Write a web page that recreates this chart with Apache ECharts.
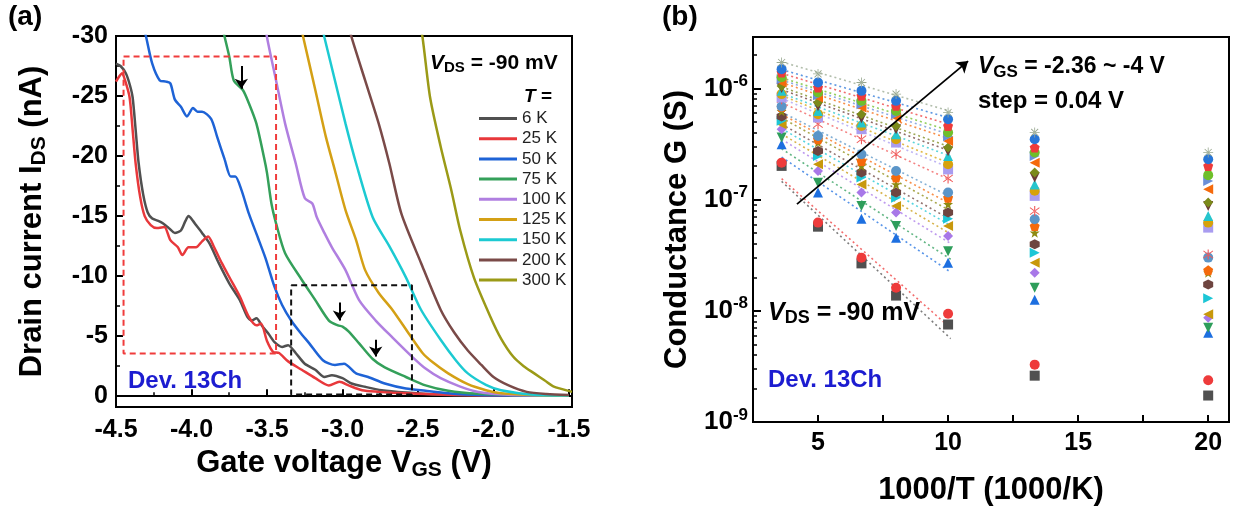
<!DOCTYPE html>
<html>
<head>
<meta charset="UTF-8">
<title>I-V curves and conductance</title>
<script type="text/javascript" src="https://cdn.jsdelivr.net/npm/echarts@6.0.0/dist/echarts.min.js"></script>
<style>
  body{margin:0;background:#fff}
</style>
</head>
<body>
<div id="main" style="width:1238px;height:511px"></div>
<script type="text/javascript">
// ---------- panel (a): drain current vs gate voltage, one curve per temperature ----------
var tempNames = ['6 K', '25 K', '50 K', '75 K', '100 K', '125 K', '150 K', '200 K', '300 K'];

var curve6K = [[-4.5,-27.7],[-4.47,-27.5],[-4.435,-26.9],[-4.41,-26.0],[-4.39,-24.9],[-4.37,-22.2],[-4.35,-19.4],[-4.32,-16.8],[-4.29,-15.3],[-4.26,-14.8],[-4.22,-14.6],[-4.19,-14.4],[-4.15,-14.0],[-4.11,-13.6],[-4.07,-13.8],[-4.04,-14.6],[-4.02,-15.0],[-3.99,-14.6],[-3.97,-14.25],[-3.93,-13.6],[-3.88,-12.7],[-3.82,-11.1],[-3.75,-9.4],[-3.68,-8.0],[-3.63,-6.6],[-3.60,-6.3],[-3.57,-6.5],[-3.53,-5.8],[-3.49,-5.2],[-3.45,-4.5],[-3.40,-4.1],[-3.36,-4.25],[-3.31,-3.6],[-3.25,-2.7],[-3.18,-2.2],[-3.12,-1.6],[-3.07,-1.75],[-3.00,-1.5],[-2.94,-1.06],[-2.85,-0.78],[-2.74,-0.5],[-2.58,-0.3],[-2.4,-0.15],[-2.2,-0.08],[-1.9,-0.05],[-1.5,-0.03]];
var curve25K = [[-4.5,-26.2],[-4.48,-26.6],[-4.46,-26.9],[-4.44,-26.3],[-4.41,-24.9],[-4.39,-22.2],[-4.37,-19.4],[-4.34,-16.6],[-4.31,-15.0],[-4.27,-14.25],[-4.23,-14.0],[-4.18,-14.1],[-4.14,-13.0],[-4.09,-12.4],[-4.06,-11.75],[-4.02,-12.4],[-3.97,-12.4],[-3.93,-12.9],[-3.89,-13.3],[-3.85,-12.4],[-3.80,-11.1],[-3.74,-9.7],[-3.68,-8.3],[-3.62,-6.6],[-3.57,-5.9],[-3.54,-6.05],[-3.50,-4.6],[-3.46,-3.7],[-3.42,-3.6],[-3.36,-2.9],[-3.27,-2.2],[-3.18,-1.5],[-3.09,-0.9],[-3.02,-1.2],[-2.96,-0.9],[-2.87,-0.5],[-2.76,-0.36],[-2.67,-0.28],[-2.5,-0.2],[-2.3,-0.12],[-2.0,-0.06],[-1.5,-0.03]];
var curve50K = [[-4.32,-31],[-4.30,-29.9],[-4.26,-27.7],[-4.21,-26.3],[-4.17,-26.2],[-4.14,-26.05],[-4.11,-24.7],[-4.07,-24.1],[-4.03,-23.3],[-3.99,-24.0],[-3.96,-23.7],[-3.93,-23.7],[-3.87,-23.1],[-3.83,-21.6],[-3.78,-19.7],[-3.74,-18.3],[-3.71,-18.3],[-3.67,-17.2],[-3.62,-15.2],[-3.56,-13.2],[-3.51,-11.5],[-3.45,-9.1],[-3.40,-7.6],[-3.34,-6.3],[-3.28,-5.3],[-3.22,-4.4],[-3.13,-3.0],[-3.05,-2.6],[-2.99,-2.7],[-2.91,-1.9],[-2.83,-1.6],[-2.72,-1.06],[-2.58,-0.64],[-2.45,-0.45],[-2.3,-0.25],[-2.1,-0.1],[-1.8,-0.05],[-1.5,-0.03]];
var curve75K = [[-3.80,-31],[-3.78,-29.9],[-3.75,-28.3],[-3.72,-26.3],[-3.66,-25.5],[-3.62,-24.4],[-3.57,-22.7],[-3.52,-19.9],[-3.50,-18.6],[-3.47,-16.0],[-3.44,-14.4],[-3.38,-11.9],[-3.27,-9.7],[-3.18,-8.0],[-3.09,-6.3],[-3.03,-5.9],[-3.00,-5.8],[-2.96,-5.4],[-2.89,-4.4],[-2.80,-3.1],[-2.72,-2.4],[-2.58,-1.6],[-2.45,-0.9],[-2.3,-0.45],[-2.1,-0.2],[-1.8,-0.07],[-1.5,-0.04]];
var curve100K = [[-3.51,-31],[-3.50,-29.9],[-3.44,-26.3],[-3.38,-22.7],[-3.31,-19.4],[-3.25,-16.5],[-3.20,-16.05],[-3.17,-14.9],[-3.12,-13.6],[-3.07,-12.4],[-2.98,-10.5],[-2.89,-8.0],[-2.78,-6.3],[-2.67,-4.9],[-2.54,-3.3],[-2.45,-2.3],[-2.35,-1.5],[-2.22,-0.8],[-2.1,-0.35],[-1.9,-0.12],[-1.5,-0.04]];
var curve125K = [[-3.28,-31],[-3.26,-29.9],[-3.18,-25.5],[-3.11,-21.6],[-3.05,-18.8],[-2.98,-15.5],[-2.91,-13.0],[-2.85,-10.5],[-2.76,-8.6],[-2.67,-7.2],[-2.56,-5.2],[-2.47,-3.6],[-2.40,-2.8],[-2.30,-1.9],[-2.17,-1.0],[-2.05,-0.5],[-1.95,-0.25],[-1.7,-0.08],[-1.5,-0.04]];
var curve150K = [[-3.14,-31],[-3.12,-29.9],[-3.05,-26.3],[-2.98,-22.7],[-2.91,-19.4],[-2.80,-14.9],[-2.69,-12.5],[-2.58,-9.9],[-2.48,-7.2],[-2.35,-4.7],[-2.25,-3.0],[-2.17,-1.9],[-2.05,-0.95],[-1.95,-0.5],[-1.73,-0.12],[-1.5,-0.05]];
var curve200K = [[-2.96,-31],[-2.94,-29.9],[-2.85,-26.3],[-2.76,-22.7],[-2.69,-19.4],[-2.61,-15.2],[-2.48,-11.1],[-2.35,-7.2],[-2.26,-5.3],[-2.17,-3.8],[-2.08,-2.6],[-2.00,-1.6],[-1.9,-0.9],[-1.78,-0.36],[-1.65,-0.18],[-1.5,-0.1]];
var curve300K = [[-2.49,-31],[-2.47,-29.9],[-2.42,-24.9],[-2.35,-20.8],[-2.28,-17.2],[-2.22,-13.8],[-2.13,-9.9],[-2.02,-6.6],[-1.95,-4.8],[-1.87,-3.3],[-1.80,-2.5],[-1.73,-1.9],[-1.66,-1.3],[-1.60,-0.8],[-1.48,-0.36]];

var curvesA = [curve6K, curve25K, curve50K, curve75K, curve100K, curve125K, curve150K, curve200K, curve300K];
var colorsA = ['#505050', '#e8383b', '#1e63d6', '#34a05a', '#b07fe0', '#d4a015', '#1ccad2', '#7a4a48', '#9b9a17'];

// dashed boxes and arrows (data coordinates)
var redBox = [[-4.45, -28.3], [-3.44, -3.55]];
var blackBox = [[-3.34, -9.25], [-2.54, -0.14]];
var arrowsA = [
  [[-3.67, -27.5], [-3.67, -25.6]],
  [[-3.02, -7.8], [-3.02, -6.3]],
  [[-2.78, -4.7], [-2.78, -3.3]]
];

// ---------- panel (b): conductance vs 1000/T, one series per gate voltage ----------
var invT = [3.6, 5, 6.67, 8, 10, 13.33, 20];
var g1  = [2.01e-7, 5.71e-8, 2.67e-8, 1.37e-8, 7.53e-9, 2.61e-9, 1.73e-9];
var g2  = [2.15e-7, 6.21e-8, 3.00e-8, 1.61e-8, 9.40e-9, 3.28e-9, 2.37e-9];
var g3  = [3.15e-7, 1.16e-7, 6.74e-8, 4.55e-8, 2.70e-8, 1.26e-8, 6.34e-9];
var g4  = [3.62e-7, 1.42e-7, 8.76e-8, 5.78e-8, 3.44e-8, 1.61e-8, 7.03e-9];
var g5  = [4.30e-7, 1.81e-7, 1.16e-7, 7.64e-8, 4.70e-8, 2.20e-8, 8.65e-9];
var g6  = [4.77e-7, 2.08e-7, 1.37e-7, 8.76e-8, 5.78e-8, 2.70e-8, 9.29e-9];
var g7  = [5.11e-7, 2.47e-7, 1.58e-7, 1.04e-7, 6.74e-8, 3.33e-8, 1.30e-8];
var g8  = [5.60e-7, 2.74e-7, 1.75e-7, 1.16e-7, 7.64e-8, 3.96e-8, 1.72e-8];
var g9  = [6.24e-7, 3.26e-7, 2.01e-7, 1.37e-7, 9.08e-8, 5.04e-8, 2.20e-8];
var g10 = [6.79e-7, 3.49e-7, 2.23e-7, 1.58e-7, 1.04e-7, 5.78e-8, 2.32e-8];
var g11 = [6.89e-7, 3.74e-7, 2.56e-7, 1.81e-7, 1.16e-7, 6.65e-8, 3.01e-8];
var g12 = [8.01e-7, 4.77e-7, 3.49e-7, 2.56e-7, 1.55e-7, 7.89e-8, 3.21e-8];
var g13 = [8.30e-7, 5.48e-7, 4.30e-7, 3.26e-7, 1.87e-7, 1.08e-7, 5.60e-8];
var g14 = [8.89e-7, 5.87e-7, 4.60e-7, 3.49e-7, 2.08e-7, 1.20e-7, 6.21e-8];
var g15 = [9.51e-7, 6.28e-7, 4.94e-7, 3.88e-7, 2.47e-7, 1.37e-7, 7.11e-8];
var g16 = [1.01e-6, 6.93e-7, 5.40e-7, 4.30e-7, 2.72e-7, 1.58e-7, 8.76e-8];
var g17 = [1.05e-6, 7.48e-7, 5.87e-7, 4.60e-7, 2.94e-7, 1.75e-7, 9.40e-8];
var g18 = [1.13e-6, 8.30e-7, 6.75e-7, 5.48e-7, 3.37e-7, 2.15e-7, 1.24e-7];
var g19 = [1.21e-6, 8.70e-7, 7.22e-7, 5.87e-7, 3.72e-7, 2.47e-7, 1.47e-7];
var g20 = [1.26e-6, 9.20e-7, 7.73e-7, 6.28e-7, 4.02e-7, 2.65e-7, 1.66e-7];
var g21 = [1.39e-6, 1.02e-6, 8.57e-7, 6.97e-7, 4.60e-7, 2.94e-7, 2.01e-7];
var g22 = [1.49e-6, 1.13e-6, 9.51e-7, 7.73e-7, 5.29e-7, 3.49e-7, 2.31e-7];
var g23 = [1.71e-6, 1.35e-6, 1.13e-6, 8.89e-7, 6.08e-7, 4.02e-7, 2.65e-7];
var seriesB = [g1, g2, g3, g4, g5, g6, g7, g8, g9, g10, g11, g12, g13, g14, g15, g16, g17, g18, g19, g20, g21, g22, g23];

// the arrow across the fits
var arrowB = [[4.19, 9.1e-8], [10.77, 1.76e-6]];

// ---------- styling ----------
var FONT = '"Liberation Sans", Arial, sans-serif';
var HEX = 'path://M0,-10L8.66,-5L8.66,5L0,10L-8.66,5L-8.66,-5Z';
var PENT = 'path://M0,-10L9.51,-3.09L5.88,8.09L-5.88,8.09L-9.51,-3.09Z';
var STAR = 'path://M0,-10L2.35,-3.24L9.51,-3.09L3.8,1.24L5.88,8.09L0,4L-5.88,8.09L-3.8,1.24L-9.51,-3.09L-2.35,-3.24Z';
var AST = 'path://M-0.9,-10L0.9,-10L0.9,10L-0.9,10Z M-8.2,-6.3L-7.3,-7.8L8.2,6.3L7.3,7.8Z M-8.2,6.3L-7.3,7.8L8.2,-6.3L7.3,-7.8Z';
var XST = 'path://M-0.8,-10L0.8,-10L0.8,10L-0.8,10Z M-10,-0.8L10,-0.8L10,0.8L-10,0.8Z M-7.6,-6.4L-6.4,-7.6L7.6,6.4L6.4,7.6Z M-7.6,6.4L-6.4,7.6L7.6,-6.4L6.4,-7.6Z';
var markB = [
  ['rect', '#505050', 0], ['circle', '#ee3b3b', 0], ['triangle', '#1d6fe0', 0], ['triangle', '#2e9e5b', 180],
  ['diamond', '#a878e8', 0], ['triangle', '#c8980c', 90], ['triangle', '#1cc6d6', -90], [HEX, '#6e4540', 0],
  [STAR, '#8d8b12', 0], [PENT, '#f56a0c', 0], ['circle', '#5b95c8', 0], [AST, '#f05a5a', 0],
  ['rect', '#a99cf0', 0], ['circle', '#d7a20c', 0], ['triangle', '#25c5cd', 0], ['triangle', '#6b3b36', 180],
  ['diamond', '#7b8a1a', 0], ['triangle', '#f56a0c', 90], ['triangle', '#6b8fd8', -90], ['circle', '#6fbf2a', 0],
  [PENT, '#ee3b3b', 0], ['circle', '#2876d8', 0], [XST, '#98a890', 0]
];

// linear fit of log10(G) vs 1000/T over the five high-temperature points
function fitLine(ys) {
  var n = 5, sx = 0, sy = 0, sxx = 0, sxy = 0;
  for (var i = 0; i < n; i++) {
    var x = invT[i], y = Math.log10(ys[i]);
    sx += x; sy += y; sxx += x * x; sxy += x * y;
  }
  var b = (n * sxy - sx * sy) / (n * sxx - sx * sx);
  var a = (sy - b * sx) / n;
  return [[3.6, Math.pow(10, a + b * 3.6)], [10.1, Math.pow(10, a + b * 10.1)]];
}

function boxPath(b) {
  return [[b[0][0], b[0][1]], [b[1][0], b[0][1]], [b[1][0], b[1][1]], [b[0][0], b[1][1]], [b[0][0], b[0][1]]];
}

var decades = [1e-9, 1e-8, 1e-7, 1e-6];
var minorLog = [];
for (var e = -9; e <= -6; e++) {
  for (var m = 2; m <= 9; m++) {
    var v = m * Math.pow(10, e);
    if (v < 2.9e-6) minorLog.push(v);
  }
}

var boldLbl = {fontFamily: FONT, fontWeight: 'bold', fontSize: 25, color: '#000'};
var axisLineStyle = {show: true, lineStyle: {color: '#000', width: 2}};
var tickStyle = {inside: true, length: 7, lineStyle: {color: '#000', width: 2}};
var nameRich = {
  t: {fontFamily: FONT, fontWeight: 'bold', fontSize: 31, color: '#000'},
  s: {fontFamily: FONT, fontWeight: 'bold', fontSize: 21, color: '#000', padding: [14, 0, 0, 0]}
};

var series = [];

curvesA.forEach(function (c, i) {
  series.push({
    name: tempNames[i], type: 'line', xAxisIndex: 0, yAxisIndex: 0,
    data: c, symbol: 'none', smooth: 0.25, silent: true,
    lineStyle: {color: colorsA[i], width: 2.5}, itemStyle: {color: colorsA[i]},
    emphasis: {disabled: true}, z: 2
  });
});

series.push({
  name: 'redBox', type: 'line', xAxisIndex: 0, yAxisIndex: 0, data: boxPath(redBox),
  symbol: 'none', silent: true, lineStyle: {color: '#f03c3c', width: 2, type: [6, 4]}, z: 3
});
series.push({
  name: 'blackBox', type: 'line', xAxisIndex: 0, yAxisIndex: 0, data: boxPath(blackBox),
  symbol: 'none', silent: true, lineStyle: {color: '#111', width: 2, type: [6, 4]}, z: 3,
  markLine: {
    silent: true, symbol: ['none', 'arrow'], symbolSize: 10, animation: false,
    lineStyle: {color: '#000', width: 2, type: 'solid'}, label: {show: false},
    data: arrowsA.map(function (a) { return [{coord: a[0]}, {coord: a[1]}]; })
  }
});

seriesB.forEach(function (g, i) {
  var fit = {
    name: 'fit' + i, type: 'line', xAxisIndex: 1, yAxisIndex: 1, data: fitLine(g),
    symbol: 'none', silent: true, z: 2,
    lineStyle: {color: markB[i][1], width: 1.6, type: [2, 3], opacity: 0.75}
  };
  if (i === 0) {
    fit.markLine = {
      silent: true, symbol: ['none', 'arrow'], symbolSize: 11, animation: false,
      lineStyle: {color: '#000', width: 1.8, type: 'solid', opacity: 1}, label: {show: false},
      data: [[{coord: arrowB[0]}, {coord: arrowB[1]}]]
    };
  }
  series.push(fit);
});

seriesB.forEach(function (g, i) {
  series.push({
    name: 'G' + i, type: 'scatter', xAxisIndex: 1, yAxisIndex: 1,
    data: invT.map(function (x, k) { return [x, g[k]]; }),
    symbol: markB[i][0], symbolRotate: markB[i][2], symbolSize: 10,
    itemStyle: {color: markB[i][1], opacity: 1}, silent: true, z: 4 + i * 0.01
  });
});

function txt(x, y, text, size, color, rich) {
  return {
    type: 'text', x: x, y: y, silent: true, z: 100,
    style: {
      text: text, fill: color || '#000', font: 'bold ' + size + 'px ' + FONT,
      verticalAlign: 'middle', align: 'left', rich: rich
    }
  };
}
function vRich(size) {
  return {
    i: {fontFamily: FONT, fontWeight: 'bold', fontStyle: 'italic', fontSize: size, color: '#000'},
    s: {fontFamily: FONT, fontWeight: 'bold', fontSize: Math.round(size * 0.72), color: '#000', padding: [Math.round(size * 0.45), 0, 0, 0]},
    n: {fontFamily: FONT, fontWeight: 'bold', fontSize: size, color: '#000'}
  };
}

var option = {
  animation: false,
  backgroundColor: '#fff',
  grid: [
    {left: 116, right: 666, top: 36, bottom: 104, show: true, borderColor: '#000', borderWidth: 2, containLabel: false},
    {left: 753, right: 9, top: 37, bottom: 89, show: true, borderColor: '#000', borderWidth: 2, containLabel: false}
  ],
  legend: {
    data: tempNames, orient: 'vertical', left: 479, top: 110, padding: 0,
    icon: 'rect', itemWidth: 38, itemHeight: 3, itemGap: 3.2, selectedMode: false,
    textStyle: {fontFamily: FONT, fontSize: 17, color: '#222', lineHeight: 17}
  },
  xAxis: [
    {
      type: 'value', gridIndex: 0, min: -4.5, max: -1.48, interval: 0.5,
      axisLine: axisLineStyle, axisTick: tickStyle,
      minorTick: {show: true, splitNumber: 2, length: 4, lineStyle: {color: '#000', width: 1.5}},
      splitLine: {show: false},
      axisLabel: Object.assign({margin: 11, formatter: function (v) {
        return Math.abs(v * 2 - Math.round(v * 2)) > 1e-6 ? '' : v.toFixed(1);
      }}, boldLbl),
      name: '{t|Gate voltage V}{s|GS}{t| (V)}', nameLocation: 'middle', nameGap: 32,
      nameTextStyle: {rich: nameRich}
    },
    {
      type: 'value', gridIndex: 1, min: 2.5, max: 20.8, interval: 2.5,
      axisLine: axisLineStyle, axisTick: tickStyle, splitLine: {show: false},
      axisLabel: Object.assign({margin: 9, formatter: function (v) {
        return Math.abs(v / 5 - Math.round(v / 5)) > 1e-6 ? '' : String(Math.round(v));
      }}, boldLbl),
      name: '{t|1000/T (1000/K)}', nameLocation: 'middle', nameGap: 53,
      nameTextStyle: {rich: nameRich}
    }
  ],
  yAxis: [
    {
      type: 'value', gridIndex: 0, min: -30, max: 0.9, interval: 5, inverse: true,
      axisLine: axisLineStyle, axisTick: tickStyle,
      minorTick: {show: true, splitNumber: 2, length: 4, lineStyle: {color: '#000', width: 1.5}},
      splitLine: {show: false},
      axisLabel: Object.assign({margin: 8, formatter: function (v) {
        return Math.abs(v / 5 - Math.round(v / 5)) > 1e-6 ? '' : String(Math.round(v));
      }}, boldLbl),
      name: '{t|Drain current I}{s|DS}{t| (nA)}', nameLocation: 'middle', nameGap: 66, nameRotate: 90,
      nameTextStyle: {rich: nameRich}
    },
    {
      type: 'log', gridIndex: 1, logBase: 10, min: 1e-9, max: 2.9e-6, position: 'left',
      axisLine: axisLineStyle,
      axisTick: {inside: true, length: 8, lineStyle: {color: '#000', width: 2}, customValues: decades},
      splitLine: {show: false},
      axisLabel: {
        margin: 5, customValues: decades,
        formatter: function (v) { return '{b|10}{s|' + Math.round(Math.log10(v)) + '}'; },
        rich: {
          b: {fontFamily: FONT, fontWeight: 'bold', fontSize: 26, color: '#000'},
          s: {fontFamily: FONT, fontWeight: 'bold', fontSize: 17, color: '#000', padding: [0, 0, 14, 0]}
        }
      },
      name: '{t|Conductance G (S)}', nameLocation: 'middle', nameGap: 60, nameRotate: 90,
      nameTextStyle: {rich: nameRich}
    },
    {
      type: 'log', gridIndex: 1, logBase: 10, min: 1e-9, max: 2.9e-6, position: 'left',
      axisLine: {show: false},
      axisTick: {inside: true, length: 4, lineStyle: {color: '#000', width: 1.5}, customValues: minorLog},
      axisLabel: {show: false}, splitLine: {show: false}
    }
  ],
  graphic: [
    txt(8, 17, '(a)', 28),
    txt(662, 17, '(b)', 28),
    txt(430, 63, '{i|V}{s|DS}{n| = -90 mV}', 21, '#000', vRich(21)),
    txt(524, 97, '{i|T}{n| =}', 19, '#000', vRich(19)),
    txt(128, 381, 'Dev. 13Ch', 24, '#1c1cd0'),
    txt(978, 67, '{i|V}{s|GS}{n| = -2.36 ~ -4 V}', 23, '#000', vRich(23)),
    txt(978, 101, 'step = 0.04 V', 24),
    txt(768, 313, '{i|V}{s|DS}{n| = -90 mV}', 25, '#000', vRich(25)),
    txt(768, 380, 'Dev. 13Ch', 24, '#1c1cd0')
  ],
  series: series
};

var chart = echarts.init(document.getElementById('main'));
chart.setOption(option);
</script>
</body>
</html>
